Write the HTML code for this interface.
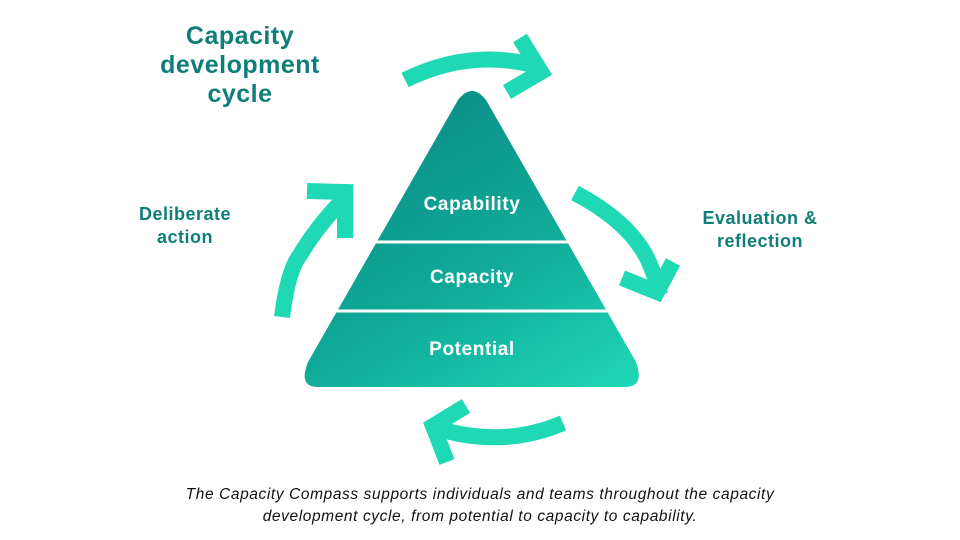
<!DOCTYPE html>
<html><head><meta charset="utf-8"><style>
body{margin:0;width:960px;height:540px;background:#fff;overflow:hidden;position:relative;font-family:"Liberation Sans",sans-serif}
.t{position:absolute;color:#0e7e79;font-weight:bold;text-align:center;letter-spacing:0.5px}
</style></head><body>
<svg width="960" height="540" style="position:absolute;left:0;top:0">
<defs><linearGradient id="g" x1="0.3" y1="0.1" x2="0.9" y2="1">
<stop offset="0" stop-color="#0a8f87"/><stop offset="0.5" stop-color="#10aa98"/><stop offset="1" stop-color="#1fd8b6"/></linearGradient>
<clipPath id="c"><path d="M458,100 Q472,82 486,100 L636,362 Q645,387 625,387 L318,387 Q298,387 308,362 Z"/></clipPath></defs>
<rect x="290" y="80" width="360" height="320" fill="url(#g)" clip-path="url(#c)"/>
<line x1="300" y1="242" x2="650" y2="242" stroke="#fff" stroke-width="3"/>
<line x1="300" y1="311" x2="650" y2="311" stroke="#fff" stroke-width="3"/>
<g fill="none" stroke="#1fd8b4" stroke-width="16" stroke-linejoin="miter" stroke-linecap="butt">
<path d="M405,80 Q470,48 537,66"/>
<path d="M520,38 L541,72 L507,92"/>
<path d="M575,193 Q630,222 648,260 Q655,275 660,295"/>
<path d="M673,262 L657,292 L622,278"/>
<path d="M563,423 Q500,450 430,426"/>
<path d="M466,406 L433,426 L447,462"/>
<path d="M282,317 Q288,270 300,255 Q318,225 343,200"/>
<path d="M307,191 L345,192 L345,238"/>
</g>
<g fill="#fff" font-family="Liberation Sans,sans-serif" font-weight="bold" font-size="19" text-anchor="middle" letter-spacing="0.6">
<text x="472" y="210">Capability</text>
<text x="472" y="283">Capacity</text>
<text x="472" y="355">Potential</text>
</g>
</svg>
<div class="t" style="left:140px;top:22px;width:200px;font-size:25px;line-height:29px">Capacity development cycle</div>
<div class="t" style="left:110px;top:203px;width:150px;font-size:18px;line-height:23px">Deliberate action</div>
<div class="t" style="left:685px;top:207px;width:150px;font-size:18px;line-height:23px">Evaluation &amp; reflection</div>
<div style="position:absolute;left:130px;top:484px;width:700px;text-align:center;font-style:italic;font-size:15.5px;letter-spacing:0.6px;line-height:22px;color:#111">The Capacity Compass supports individuals and teams throughout the capacity<br>development cycle, from potential to capacity to capability.</div>
</body></html>
